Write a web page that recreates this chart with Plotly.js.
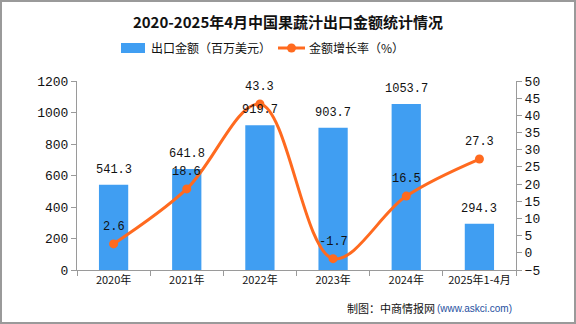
<!DOCTYPE html>
<html><head><meta charset="utf-8">
<script src="https://cdn.plot.ly/plotly-3.0.1.min.js"></script>
<style>html,body{margin:0;padding:0;background:#fff}#wrap{position:relative;width:576px;height:324px}#frame{position:absolute;left:0;top:0;width:576px;height:324px;box-sizing:border-box;border:2px solid #9a9a9a;pointer-events:none}</style>
</head><body>
<div id="wrap"><div id="chart" style="width:576px;height:324px"></div><div id="frame"></div></div>
<script>
var categories = ['2020年','2021年','2022年','2023年','2024年','2025年1-4月'];
var exportValue = [541.3, 641.8, 919.7, 903.7, 1053.7, 294.3];
var growthRate = [2.6, 18.6, 43.3, -1.7, 16.5, 27.3];
var leftTicks = [0,200,400,600,800,1000,1200];
var rightTicks = [-5,0,5,10,15,20,25,30,35,40,45,50];
var barName = '出口金额（百万美元）';
var lineName = '金额增长率（%）';

var numFont = 'Liberation Mono, Noto Sans CJK SC, monospace';
var cjkFont = 'Noto Sans CJK SC, sans-serif';
var barColor = '#409ef2', lineColor = '#ff6a1f';

var bar = {
  type:'bar', x:categories, y:exportValue, name:barName,
  marker:{color:barColor}, width:0.4, hoverinfo:'skip', showlegend:false
};
var line = {
  type:'scatter', mode:'lines+markers', x:categories, y:growthRate, yaxis:'y2',
  name:lineName, line:{color:lineColor, width:3, shape:'spline', smoothing:1},
  marker:{color:lineColor, size:9}, hoverinfo:'skip', showlegend:false
};

var annotations = [];
categories.forEach(function(c,i){
  annotations.push({x:c, y:exportValue[i], xref:'x', yref:'y', text:exportValue[i].toFixed(1),
    showarrow:false, yanchor:'bottom', yshift:6, font:{family:numFont, size:12, color:'#111'}});
  annotations.push({x:c, y:growthRate[i], xref:'x', yref:'y2', text:growthRate[i].toFixed(1),
    showarrow:false, yanchor:'bottom', yshift:8, font:{family:numFont, size:12, color:'#111'}});
});
function px(v){return (v-77)/439;}
function py(v){return (270-v)/189;}
// footer
annotations.push({xref:'paper', yref:'paper', x:px(514), y:py(308), xanchor:'right', yanchor:'middle', showarrow:false,
  text:'(www.askci.com)', font:{family:'Liberation Sans, sans-serif', size:10, color:'#1f4fa0'}});
annotations.push({xref:'paper', yref:'paper', x:px(437), y:py(308), xanchor:'right', yanchor:'middle', showarrow:false,
  text:'制图：中商情报网', font:{family:cjkFont, size:11, color:'#111'}});
// legend labels
annotations.push({xref:'paper', yref:'paper', x:px(149), y:py(48), xanchor:'left', yanchor:'middle', showarrow:false,
  text:barName, font:{family:cjkFont, size:12, color:'#111'}});
annotations.push({xref:'paper', yref:'paper', x:px(307), y:py(48), xanchor:'left', yanchor:'middle', showarrow:false,
  text:lineName, font:{family:cjkFont, size:12, color:'#111'}});

var shapes = [
  {type:'rect', xref:'paper', yref:'paper', x0:px(121), x1:px(145), y0:py(53), y1:py(43), fillcolor:barColor, line:{width:0}},
  {type:'line', xref:'paper', yref:'paper', x0:px(278), x1:px(305), y0:py(48), y1:py(48), line:{color:lineColor, width:3}},
  {type:'circle', xref:'paper', yref:'paper', x0:px(287), x1:px(296), y0:py(52.5), y1:py(43.5), fillcolor:lineColor, line:{width:0}}
];

var layout = {
  width:576, height:324,
  margin:{l:77, r:60, t:81, b:54},
  paper_bgcolor:'#fff', plot_bgcolor:'#fff',
  title:{text:'<b>2020-2025年4月中国果蔬汁出口金额统计情况</b>', x:0.5, xanchor:'center', y:0.929, yanchor:'middle',
    font:{family:cjkFont, size:15, color:'#111'}},
  showlegend:false,
  xaxis:{type:'category', showline:true, linecolor:'#9a9a9a', linewidth:1, ticks:'outside', tickson:'boundaries',
    ticklen:5, tickcolor:'#9a9a9a', showgrid:false, zeroline:false, tickangle:0,
    tickfont:{family:cjkFont, size:11, color:'#111'}, fixedrange:true},
  yaxis:{range:[0,1200], tickvals:leftTicks, showline:true, linecolor:'#9a9a9a', linewidth:1, ticks:'outside',
    ticklen:5, tickcolor:'#9a9a9a', showgrid:false, zeroline:false,
    tickfont:{family:numFont, size:13, color:'#111'}},
  yaxis2:{range:[-5,50], tickvals:rightTicks, overlaying:'y', side:'right', showline:true, linecolor:'#9a9a9a',
    linewidth:1, ticks:'outside', ticklen:5, tickcolor:'#9a9a9a', showgrid:false, zeroline:false,
    tickfont:{family:numFont, size:13, color:'#111'}},
  annotations:annotations,
  shapes:shapes,
  bargap:0.6
};
Plotly.newPlot('chart', [bar, line], layout, {displayModeBar:false, staticPlot:true});
</script>
</body></html>
